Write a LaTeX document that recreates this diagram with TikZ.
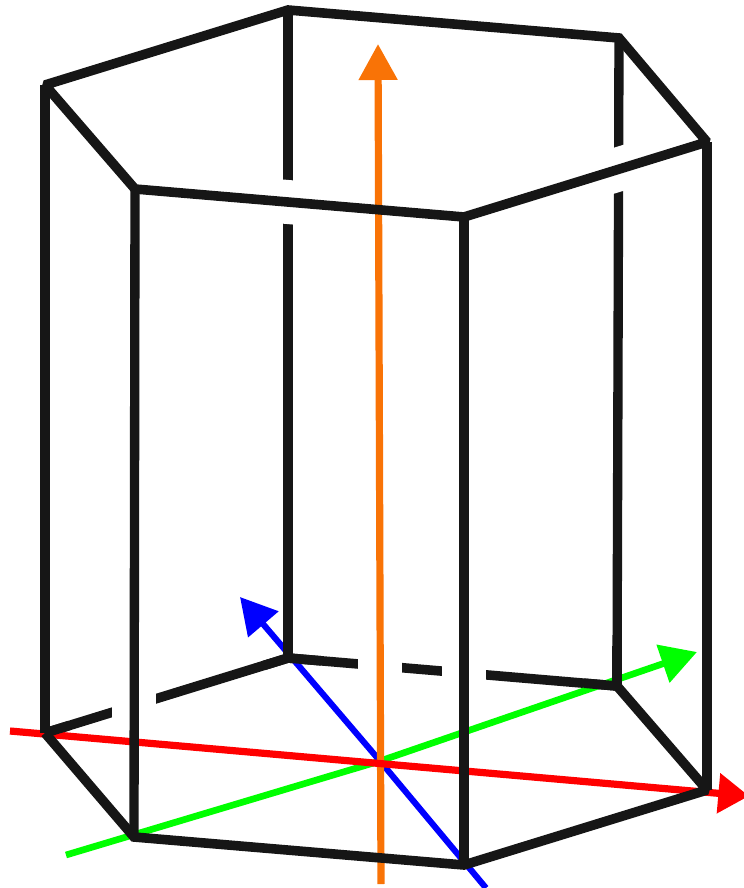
\documentclass[tikz,border=0pt]{standalone}
\usetikzlibrary{arrows.meta,calc}
\definecolor{edgeblack}{HTML}{161616}
\definecolor{axisorange}{HTML}{F97306}
\tikzset{
  edge/.style={draw=edgeblack,line width=7.2pt,line join=miter,miter limit=1.6},
  post/.style={draw=edgeblack,line width=7pt},
  halo/.style={draw=white,line width=33pt},
  axis/.style={line width=5pt,-{Triangle[length=27pt,width=29pt]}},
}
\begin{document}
\begin{tikzpicture}[x=0.75pt,y=-0.75pt]
  \useasboundingbox (0,0) rectangle (743,888);

  \coordinate (topa) at (45,85);
  \coordinate (topb) at (288,10);
  \coordinate (topc) at (619,38);
  \coordinate (topd) at (707,142);
  \coordinate (tope) at (464,217);
  \coordinate (topf) at (135,189);
  \coordinate (lowa) at (45,733);
  \coordinate (lowb) at (288,658);
  \coordinate (lowc) at (617,686);
  \coordinate (lowd) at (707,790);
  \coordinate (lowe) at (464,865);
  \coordinate (lowf) at (134,837);
  \coordinate (origin) at (380,761);

  \draw[post] (topb) -- (lowb);
  \draw[post] (topc) -- (lowc);
  \draw[edge] (lowa) -- (lowb) -- (lowc);

  \draw[halo] ($(topf)!0.40!(tope)$) -- ($(topf)!0.53!(tope)$);
  \draw[halo] ($(tope)!0.58!(topd)$) -- ($(tope)!0.70!(topd)$);
  \draw[halo] (134,680) -- (134,730);
  \draw[halo] (380,645) -- (380,690);
  \draw[halo] (464,650) -- (464,700);

  \draw[axis,green] (66,855) -- (origin) -- (697,652);
  \draw[axis,blue,line width=4.6pt] (486,888) -- (origin) -- (240,597);
  \draw[axisorange,line width=5.4pt,-{Triangle[length=27pt,width=28pt]}] (381,884) -- (378,44);
  \draw[axis,red,line width=5.4pt,-{Triangle[length=23pt,width=29pt]}] (10,731) -- (749,796);

  \draw[edge] ($(lowb)!0.1!(lowa)$) -- (lowb) -- ($(lowb)!0.1!(lowc)$);
  \draw[edge] ($(lowc)!0.1!(lowb)$) -- (lowc);
  \draw[edge] (lowa) -- ($(lowa)!0.1!(lowb)$);
  \draw[post] (lowb) -- ++(0,-40);
  \draw[post] (lowc) -- ++(0,-40);

  \foreach \v in {a,f,e,d} {
    \draw[post] (top\v) -- (low\v);
  }
  \draw[edge] (topa) -- (topb) -- (topc) -- (topd) -- (tope) -- (topf) -- cycle;
  \draw[edge] (lowa) -- (lowf) -- (lowe) -- (lowd) -- (lowc);
\end{tikzpicture}
\end{document}
